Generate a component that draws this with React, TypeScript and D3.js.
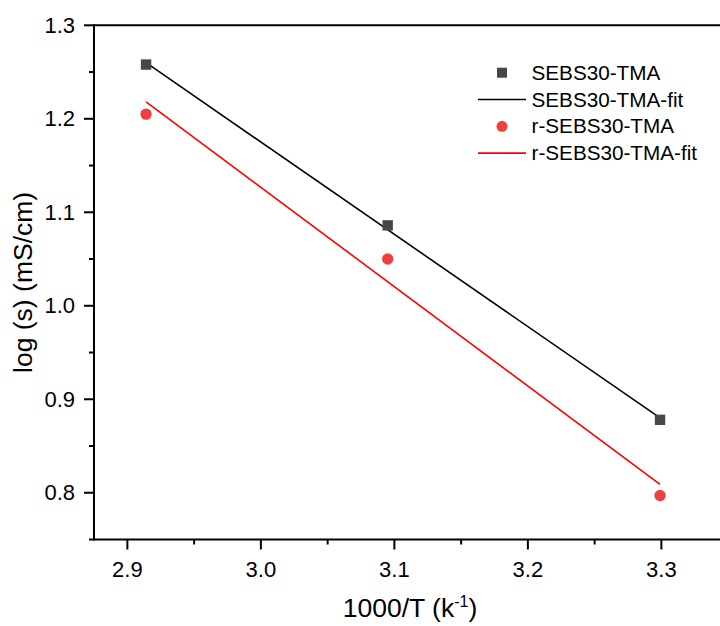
import React from "react";
import * as d3 from "d3";

const xValues = [2.914, 3.095, 3.299];
const sebsValues = [1.258, 1.086, 0.878];
const rSebsValues = [1.205, 1.05, 0.797];
const fitX = [2.914, 3.299];
const sebsFit = [1.26, 0.88];
const rSebsFit = [1.218, 0.809];
const xTicks = [2.9, 3.0, 3.1, 3.2, 3.3];
const xMinor = [2.95, 3.05, 3.15, 3.25];
const yTicks = [0.8, 0.9, 1.0, 1.1, 1.2, 1.3];
const yMinor = [0.75, 0.85, 0.95, 1.05, 1.15, 1.25];
const legendLabels = ["SEBS30-TMA", "SEBS30-TMA-fit", "r-SEBS30-TMA", "r-SEBS30-TMA-fit"];

const W = 720;
const H = 626;
const left = 94;
const top = 25.3;
const bottom = 539.5;

export default function App() {
  const x = d3.scaleLinear().domain([2.875, 3.35]).range([left, left + 0.475 * 1335]);
  const y = d3.scaleLinear().domain([0.75, 1.3]).range([bottom, top]);
  const line = d3
    .line<[number, number]>()
    .x((d) => x(d[0]))
    .y((d) => y(d[1]));
  const font = "Arial, 'Liberation Sans', Helvetica, sans-serif";
  const sebsFitPts = fitX.map((v, i) => [v, sebsFit[i]] as [number, number]);
  const rFitPts = fitX.map((v, i) => [v, rSebsFit[i]] as [number, number]);
  const legX = 502;
  const legY0 = 72.7;
  const legDy = 26.8;
  return (
    <svg
      width={W}
      height={H}
      style={{ position: "absolute", left: 0, top: 0, background: "#fff" }}
      fontFamily={font}
    >
      <rect x={0} y={0} width={W} height={H} fill="#fff" />
      {/* fit lines */}
      <path d={line(sebsFitPts) || ""} fill="none" stroke="#000" strokeWidth={1.6} />
      <path d={line(rFitPts) || ""} fill="none" stroke="#ff0000" strokeWidth={1.6} />
      {/* markers */}
      {xValues.map((v, i) => (
        <rect
          key={"s" + i}
          x={x(v) - 5.2}
          y={y(sebsValues[i]) - 5.2}
          width={10.4}
          height={10.4}
          fill="#474747"
        />
      ))}
      {xValues.map((v, i) => (
        <circle key={"r" + i} cx={x(v)} cy={y(rSebsValues[i])} r={5.7} fill="#ef4040" />
      ))}
      {/* axes */}
      <line x1={left} x2={W} y1={top} y2={top} stroke="#000" strokeWidth={2} />
      <line x1={left} x2={W} y1={bottom} y2={bottom} stroke="#000" strokeWidth={2} />
      <line x1={left} x2={left} y1={top - 1} y2={bottom + 1} stroke="#000" strokeWidth={2} />
      {yTicks.map((t) => (
        <g key={"yt" + t}>
          <line x1={left - 10} x2={left} y1={y(t)} y2={y(t)} stroke="#000" strokeWidth={2} />
          <text x={left - 19} y={y(t) + 7.5} fontSize={22} textAnchor="end" fill="#000">
            {d3.format(".1f")(t)}
          </text>
        </g>
      ))}
      {yMinor.map((t) => (
        <line key={"ym" + t} x1={left - 5} x2={left} y1={y(t)} y2={y(t)} stroke="#000" strokeWidth={2} />
      ))}
      {xTicks.map((t) => (
        <g key={"xt" + t}>
          <line x1={x(t)} x2={x(t)} y1={bottom} y2={bottom + 10} stroke="#000" strokeWidth={2} />
          <text x={x(t)} y={576.5} fontSize={22} textAnchor="middle" fill="#000">
            {d3.format(".1f")(t)}
          </text>
        </g>
      ))}
      {xMinor.map((t) => (
        <line key={"xm" + t} x1={x(t)} x2={x(t)} y1={bottom} y2={bottom + 5} stroke="#000" strokeWidth={2} />
      ))}
      {/* axis titles */}
      <text x={410} y={617} fontSize={26.5} textAnchor="middle" fill="#000">
        1000/T (k<tspan dy={-10} fontSize={16}>-1</tspan>
        <tspan dy={10}>)</tspan>
      </text>
      <text
        transform={`translate(32,${(top + bottom) / 2}) rotate(-90)`}
        fontSize={26.5}
        textAnchor="middle"
        fill="#000"
      >
        log (s) (mS/cm)
      </text>
      {/* legend */}
      <rect x={legX - 5} y={legY0 - 5} width={10} height={10} fill="#474747" />
      <line x1={legX - 24} x2={legX + 24} y1={legY0 + legDy} y2={legY0 + legDy} stroke="#000" strokeWidth={1.6} />
      <circle cx={legX} cy={legY0 + 2 * legDy} r={5.5} fill="#ef4040" />
      <line x1={legX - 24} x2={legX + 24} y1={legY0 + 3 * legDy} y2={legY0 + 3 * legDy} stroke="#ff0000" strokeWidth={1.6} />
      {legendLabels.map((l, i) => (
        <text key={l} x={531.5} y={legY0 + i * legDy + 7} fontSize={20.7} fill="#000">
          {l}
        </text>
      ))}
    </svg>
  );
}
